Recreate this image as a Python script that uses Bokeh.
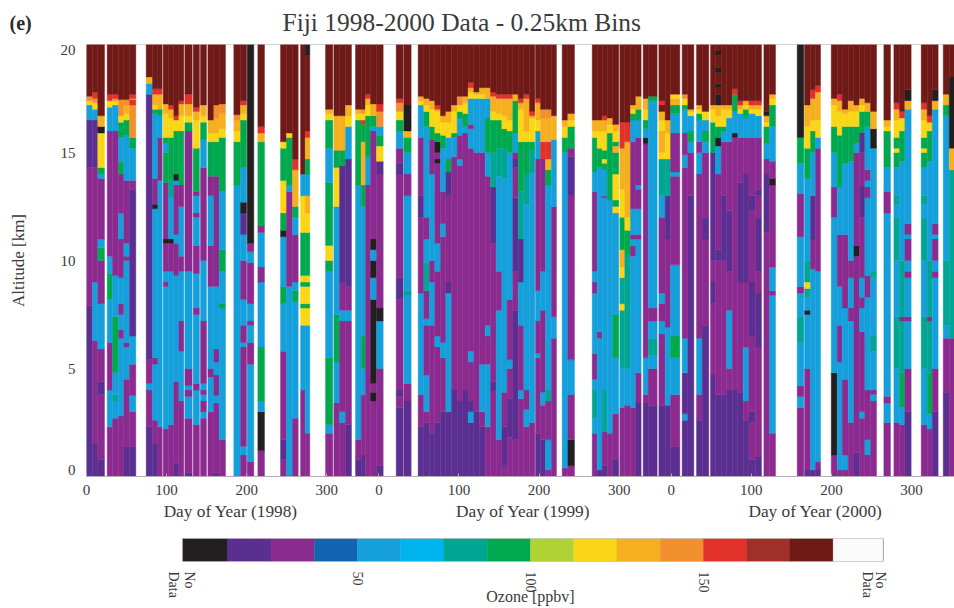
import math
from bokeh.embed import file_html
from bokeh.resources import INLINE
from bokeh.layouts import column
from bokeh.models import (ColumnDataSource, FixedTicker, Label, LinearAxis, LinearColorMapper, Range1d)
from bokeh.plotting import figure
from bokeh.transform import transform

# Ozone class (ppbv) of each letter used in the profiles
ozone_code = dict(k=6, i=18, p=31, b=43, l=56, c=68, t=81, g=93, m=106, y=118,
                  a=131, o=143, r=156, n=168, M=181)
palette = ["#231f20", "#5b2e91", "#8c2b8f", "#1264b0", "#15a0dc", "#00b4ef", "#00a693", "#00a94f",
           "#b1d235", "#f9d616", "#f6af1e", "#f28f2f", "#e1312a", "#a02f28", "#701a18", "#fafafa"]

# Soundings: day since 1 Jan 1998 (start, end), profile = class, top altitude km, class, ...
start_1998 = [0, 7.5, 14.1, 25.8, 32.5, 40, 46.6, 53.7, 74.5, 82.4, 89.1, 95.7, 102.4, 109, 115.3, 122.8, 133.2,
              142.3, 151.5, 159, 165.6, 183.9, 192.3, 200.6, 213.9, 242.2, 249.7, 257.2, 267.2, 273, 298.4, 308.8,
              315.9, 323.3, 335.8, 342.9, 348.3, 354.6, 362]
end_1998 = [7.5, 14.1, 22.5, 32.5, 40, 46.6, 53.7, 61.6, 82.4, 89.1, 94.5, 102.4, 109, 115.3, 121.5, 131.9, 141,
            149.8, 159, 165.6, 173.5, 192.3, 199.8, 208.9, 222.2, 249.7, 257.2, 264.3, 273, 278.8, 307.5, 315.9,
            323.3, 330.8, 342.9, 348.3, 354.6, 362, 370.4]
profile_1998 = [
    "i 7.9 p 14.3 i 16.5 l 17.2 y 17.4 o 17.6 M",
    "i 1.5 p 6.3 l 9 p 14.3 i 16.5 l 17 y 17.3 o 17.5 r 17.8 M",
    "i 0.8 p 3.8 i 4.4 p 5.9 l 8 p 10 g 10.6 l 11 p 13.8 l 14 g 14.3 y 15.9 k 16.2 a 16.7 M",
    "p 2.3 l 4 p 6.2 l 8.2 g 9.4 l 10.2 p 16 l 17.1 y 17.4 r 17.7 M",
    "p 2.7 l 3.5 t 3.8 l 4.8 g 7.4 l 9.3 p 16 l 17.2 y 17.4 o 17.5 r 17.7 M",
    "p 2.8 l 6.4 p 6.8 l 7.5 p 8 l 9.2 p 11 l 12.2 p 14 g 14.6 l 15.7 g 16.4 y 16.7 o 17.45 M",
    "i 1.4 p 4.5 l 6 p 6.2 l 10 p 10.2 l 10.8 p 13.7 l 15.8 g 16.5 y 16.8 a 17.2 o 17.45 M",
    "i 1.4 p 3 l 3.75 p 5.2 l 6.5 i 13.3 p 13.7 l 15.2 g 15.7 o 17.2 r 17.45 o 17.5 r 17.7 M",
    "i 2.3 p 4 l 4.3 p 5.4 i 17.7 l 18.2 a 18.5 M",
    "i 1.5 p 2.6 l 5.2 p 5.5 l 12.4 k 12.6 p 13.8 l 16.8 g 17 y 17.2 a 17.7 r 17.95 M",
    "p 2.3 l 13.7 p 15.7 l 16.7 g 17 a 17.7 r 17.95 M",
    "p 2.2 l 8.8 p 9 l 9.5 p 10.8 k 11 p 13.6 g 15 l 15.4 g 15.7 y 16.8 a 17.25 M",
    "p 2.4 l 9.5 p 10.8 k 11 l 12.9 t 13.7 g 15.7 y 16.6 a 17 r 17.2 M",
    "i 0.6 p 4.4 l 9.3 p 10.8 l 11.2 p 13.5 l 13.7 k 14 g 16 y 16.5 r 16.7 M",
    "p 3.5 l 5.8 p 7.2 l 9.5 p 10.2 l 12.5 p 13.5 g 16 y 16.7 a 17.25 r 17.4 M",
    "i 0.2 p 2.7 l 3.7 p 4 l 4.2 p 5 l 9.5 p 16 g 16.4 y 16.7 a 17.25 r 17.7 M",
    "p 2.4 l 4 p 4.3 l 7.5 p 7.8 l 9.4 p 10.7 l 12 p 12.2 l 13 p 13.2 g 15.2 y 16.5 a 16.9 r 17.1 M",
    "p 2.7 l 3 p 3.5 l 3.8 p 4 l 4.3 p 7.2 l 10 p 14.3 l 15.6 g 16.4 y 16.7 a 17.2 M",
    "p 3 l 4.6 p 5 l 8.8 p 10.7 l 13 p 13.9 g 15.5 y 15.9 a 16.5 M",
    "i 0.2 p 3.4 l 3.75 p 4.7 l 5.3 p 5.9 l 8.8 p 13.9 g 15.5 y 15.9 a 16.6 o 17.2 M",
    "p 1.7 l 7.8 g 8 l 9.5 g 10.5 l 13.2 g 15.7 y 16.1 a 16.8 o 17.25 M",
    "l 13.5 g 15.5 y 16 a 16.5 o 16.75 M",
    "p 1 l 1.4 p 6 l 6.2 p 7 l 8.2 p 10 l 11.2 i 12.2 k 12.7 l 14.3 g 16.5 y 16.8 a 17.2 r 17.4 M",
    "p 0.7 l 5.2 p 6.2 l 7 p 7.2 l 8 p 9.9 l 10.4 p 10.8 k",
    "p 1.2 k 3 l 3.5 g 6 l 9 p 9.7 l 11.3 p 11.6 g 15.5 a 15.9 r 16.2 M",
    "p 0.8 i 1.7 p 5.8 l 8 g 8.8 l 11.1 k 11.4 g 12.2 y 13.7 g 15.2 y 15.5 M",
    "l 8.8 p 13.2 l 13.5 g 15.7 y 15.9 M",
    "p 2.7 l 8.1 g 8.6 l 9 p 11.2 l 12 g 12.5 a 14.2 r 14.7 M",
    "p 4 l 7 y 7.8 g 8 y 8.8 g 9 y 9.3 g 11.3 y 13 l 14 M",
    "p 2 l 7 y 7.8 g 8 y 8.8 g 9 y 9.3 g 11.3 y 12.2 a 13 l 14 g 14.7 a 15.7 r 16 M 19.5 k",
    "p 2 l 2.4 g 5.5 l 9.5 g 10 y 10.7 g 13.6 l 15.2 g 16.5 y 16.8 a 17 M",
    "p 3.4 l 5.3 g 7.5 l 12.5 y 14.3 g 15.1 a 16.7 M",
    "p 2.5 l 3 p 7.2 l 7.7 p 9 i 14.4 g 15.1 a 16.7 M",
    "i 2.4 p 7.2 l 7.7 p 8.8 i 14.7 l 16.2 y 16.7 a 17.2 M",
    "i 0.8 p 1.7 l 13.5 g 16.5 y 16.8 a 17 M",
    "i 1 p 3.8 l 5 g 6.5 l 12.5 g 13.5 a 15.5 g 16.3 r 16.5 y 16.8 o 17 M",
    "p 13.5 l 14.8 g 16.7 y 17.2 a 17.5 r 17.7 M",
    "p 3.5 k 3.9 p 4.3 k 8.2 l 9.2 k 10 l 10.5 k 11 p 16 l 16.2 g 16.7 a 17.25 M",
    "i 0.5 p 5 l 7.2 k 7.8 p 14 i 14.6 y 15.3 g 15.8 l 16.2 o 16.9 r 17.25 M",
]

start_1999 = [386.6, 396.1, 414, 421.1, 428.2, 434.8, 441.9, 448.6, 455.6, 462.7, 469.8, 476.4, 483.5, 490.6, 497.7,
              504.3, 511.4, 518.5, 525.1, 532.2, 538.9, 545.9, 553, 560.5, 566.8, 573, 580.5, 593.8, 600.9, 631.3,
              637.5, 643.7, 650, 657, 665.8, 672, 679.1, 685.8, 694.9, 701.2, 714.5, 722.4, 729.1]
end_1999 = [395.3, 405.3, 421.1, 428.2, 434.8, 441.9, 448.6, 455.6, 462.7, 469.8, 476.4, 483.5, 490.6, 497.7, 504.3,
            511.4, 518.5, 525.1, 532.2, 538.9, 545.9, 553, 559.7, 566.8, 573, 580.5, 586.7, 600.9, 609.2, 637.5,
            643.7, 650, 657, 664.5, 672, 679.1, 685.8, 692.4, 701.2, 712.4, 722.4, 729.1, 740.7]
profile_1999 = [
    "i 3.2 p 3.7 i 4 p 8.2 i 9.2 p 14 i 14.5 p 15.2 l 16 g 16.5 y 16.9 o 17.3 r 17.5 M",
    "i 3.5 p 4.3 l 8.4 t 8.6 l 13 p 14 l 15 g 15.7 a 16 k 17.2 M",
    "i 2.3 p 3.8 l 8.5 p 12 i 13 p 15.7 l 17.2 y 17.4 a 17.6 M",
    "i 2.5 p 3 l 4.7 p 7 l 7.3 p 8.6 t 9.9 l 11 p 12 l 16.2 g 16.9 y 17.2 a 17.5 M",
    "i 2 p 7 l 9 p 10 l 14 p 15.6 g 16.2 y 17 a 17.4 M",
    "i 2.5 p 6 l 6.5 p 9.5 l 10.8 p 14.5 k 14.7 p 15 k 15.5 g 15.9 y 16.9 a 17 r 17.2 M",
    "i 3 p 5.5 l 6.2 p 11.1 l 11.7 p 13.2 l 15.2 g 15.8 y 16.4 a 16.7 M",
    "i 3 l 8.5 i 9 p 13 i 14.1 g 14.7 l 15.7 y 16.4 a 16.9 M",
    "i 4 p 14.8 l 15.7 g 15.9 y 16.9 a 17.2 M",
    "i 3.5 p 14.4 l 14.7 p 15.8 l 16.6 g 16.9 y 17.2 o 17.6 M",
    "i 4 p 15.9 l 16.2 g 16.8 y 17.3 a 17.6 M",
    "i 2.5 l 3 i 3.5 p 5.3 l 5.8 p 15.2 l 16.1 p 16.3 l 17.5 y 17.8 a 18 r 18.25 M",
    "i 3 p 15 l 17.5 y 17.7 a 17.8 M",
    "i 2.3 p 3 l 5.2 p 15 l 17.5 y 17.7 a 18 M",
    "p 2.3 l 5.2 p 6.5 l 7 p 13.9 l 15 g 16.6 l 17.5 a 18 M",
    "p 4 i 4.4 p 10.8 i 13.4 t 15 g 16.5 y 16.9 a 17.6 r 17.8 M",
    "p 1.7 l 7.7 p 9.5 l 13.9 t 15.2 g 16.5 y 16.8 a 17.5 r 17.7 M",
    "p 0.5 i 2.3 p 3.9 l 13.8 t 15.2 g 16.1 y 16.7 a 17.5 r 17.7 M",
    "p 1.8 i 3.6 p 5 l 5.4 p 8.2 l 15 g 16 y 16.5 a 17.5 r 17.7 M",
    "p 1.7 i 7.7 p 9.5 i 12.9 p 14.3 i 14.7 p 15 l 15.9 g 17.4 a 17.7 M",
    "p 3.6 l 4 p 7 l 9 i 11 t 13.2 g 15.5 y 17 a 17.3 r 17.5 M",
    "p 2.3 l 3.1 p 4 l 12.6 t 14 g 15.5 y 16 a 17.5 r 17.7 M",
    "p 2.5 l 14.1 t 15.1 g 15.5 y 16.6 a 16.7 r 16.9 M",
    "i 2 p 5.5 l 5.7 p 7.2 l 8.6 p 14.7 l 16 y 16.5 a 17.3 r 17.5 M",
    "i 1.7 p 3.3 l 3.9 p 7.7 l 9.5 p 14.7 r 15.5 a 16.6 o 17 M",
    "p 0.3 l 1.7 p 3.5 t 4 l 13.5 g 14.2 a 14.7 r 15.5 a 16.6 o 17 M",
    "p 6.4 l 7.4 p 12.5 l 15.6 a 16.7 M",
    "p 0.4 l 15 g 15.7 y 16.2 a 16.5 M",
    "p 0.5 k 1.7 p 3.8 l 5.4 p 13 i 14.8 p 15.2 g 16.2 y 16.5 a 16.8 M",
    "p 2 l 2.7 t 4 l 4.5 p 5.7 l 8.5 p 9 l 9.5 p 13.2 l 14.1 g 15.7 y 16 a 16.5 M",
    "i 0.3 l 6.4 p 6.7 l 14.3 g 15.2 y 16 a 16.5 M",
    "i 0.5 p 2.1 t 4 l 12.9 p 13 l 14.2 g 14.5 y 14.7 g 15.1 y 16 a 16.5 r 16.7 M",
    "p 2 l 12.8 g 15.9 y 16.3 a 16.6 M",
    "i 0.8 p 2.9 l 5.5 g 7.5 l 12.2 y 12.5 g 12.8 y 14 g 15 a 15.3 g 15.5 y 16 a 16.3 M",
    "p 3.2 l 5 t 7.7 y 8 t 9.2 y 9.7 a 10.5 g 12 y 13.3 a 15.2 r 16.4 M",
    "p 3.3 l 5 t 10.3 g 11.4 y 12 a 15.5 r 16.4 M",
    "p 3.2 l 10.2 p 10.7 l 11 p 11.2 l 12.4 p 15.5 l 16.5 g 16.8 y 17 a 17.2 M",
    "i 3.4 p 4.8 l 11 p 11.2 l 12.4 p 13.3 l 13.5 p 15.7 l 16.5 g 17 a 17.6 M",
    "i 3.4 p 3.8 l 5.5 p 15.4 k 15.7 l 16.1 g 16.5 y 17 a 17.5 M",
    "i 3.3 p 5 l 5.6 t 6.4 l 7.2 p 7.8 l 17.4 g 17.6 M",
    "i 3.3 p 6.6 l 7.2 p 8 l 8.5 p 12 l 13 t 14.7 y 15 a 16 y 16.5 a 16.9 M 17.2 r 17.4 M",
    "i 3.3 l 6.9 p 11 i 13 t 14.7 y 15.9 a 16.5 M",
    "i 1.4 p 3.8 l 5.5 g 6.5 l 9.8 p 13.9 l 14.1 p 15.9 l 16.8 g 17.2 a 17.5 y 17.7 M",
]

start_2000 = [743.6, 750.7, 761.5, 768.6, 779, 785.3, 792.3, 799, 806.1, 813.1, 819.8, 826.9, 835.2, 845.6, 852.7,
              887.2, 896.4, 903.9, 910.1, 929.7, 937.2, 943.4, 950.9, 958, 965, 971.7, 978.8, 995.4, 1007.9, 1015,
              1021.6, 1042, 1049.5, 1055.8, 1069.5, 1077]
end_2000 = [750.7, 758.2, 768.6, 776.9, 785.3, 792.3, 799, 806.1, 813.1, 819.8, 826.9, 835.2, 842.7, 852.7, 860.2,
            895.5, 903.9, 910.1, 916.4, 937.2, 943.4, 950.9, 958, 965, 971.7, 978.8, 986.3, 1003.7, 1015, 1021.6,
            1029.5, 1049.5, 1055.8, 1063.2, 1077, 1083.6]
profile_2000 = [
    "i 2.6 l 2.9 i 4.8 l 6.4 p 14.3 l 14.9 p 15.9 l 17 g 17.2 y 17.5 o 17.7 M",
    "i 13 p 15 l 15.5 g 16 l 16.7 y 16.9 a 17 M",
    "i 2.6 p 3.8 l 6.4 p 14 l 15 p 15.5 l 16.5 g 16.8 y 17 a 17.2 M",
    "i 7 p 11 i 12 p 15 l 15.5 g 16 l 16.5 y 16.9 M",
    "i 4.7 p 8 i 9 p 10 i 15 g 16.4 y 17 a 17.2 M",
    "i 3.8 p 10 i 10.5 p 14 l 15.3 k 15.7 g 16.2 y 16.7 a 17.2 k 17.7 M 18 k 18.2 M 18.7 k 18.95 M 19.5 k 19.7 M",
    "i 3.8 p 10 i 13 p 15.5 l 16 g 16.2 y 17 a 17.2 M",
    "i 4 p 5 l 7.7 p 9.5 i 12.3 p 15.5 l 16.6 y 17 a 17.2 M",
    "i 4 p 15.7 k 15.9 l 16.9 g 17.7 r 17.95 M",
    "i 3.9 p 9 i 13.6 p 15.7 l 16.8 y 17 a 17.2 r 17.4 M",
    "i 2.6 p 3.5 l 6 p 9 i 14 p 15.7 l 16.6 g 17 y 17.2 a 17.4 M",
    "i 0.8 p 2.5 i 3 p 6.5 i 9 p 12.3 i 13 p 15.7 l 16.8 y 17 a 17.2 r 17.4 M",
    "i 0.9 p 6 i 8.5 p 9.5 i 12 p 13 i 13.3 p 15.7 l 16.7 y 17 a 17.2 r 17.4 M",
    "p 11.3 i 14 p 14.7 l 15.4 g 16.2 y 16.4 a 16.7 k 16.9 M",
    "p 2 l 8.4 p 8.6 l 9.7 p 13.5 k 13.8 p 14.6 l 16.2 g 17.2 y 17.5 a 17.7 M",
    "p 3.2 l 3.7 p 4.2 l 6.2 t 7.4 l 8.5 p 8.8 l 11.1 p 13.1 l 14.5 g 15.7 k",
    "i 0.3 p 5 l 7.5 k 7.7 l 8.3 t 8.7 y 9 t 10 l 13.8 g 15.2 y 16.2 a 17.2 M",
    "i 0.3 l 9.6 p 11 i 13 l 15 g 16 y 16.5 a 17.5 r 17.9 M",
    "i 0.3 p 0.7 l 9.5 p 15.2 l 15.7 y 16.5 a 17.8 r 18.1 M",
    "p 1 k 4.8 l 12 p 13.4 l 15 g 16.2 y 17.2 a 17.5 M",
    "p 0.3 l 5.3 p 7 l 8.8 p 11.2 l 13.4 g 15.8 y 16.9 a 17.4 r 17.7 M",
    "p 0.3 l 1 p 4.5 l 7.8 p 11.2 l 14.5 g 16.2 y 16.8 a 17 M",
    "p 2.5 l 7.2 p 7.8 l 9.2 p 10 l 14.6 g 16.2 y 16.9 a 17.4 M",
    "i 1.1 p 10.2 k 10.7 p 15 l 15.4 g 16.2 y 16.9 a 17.2 M",
    "p 2.7 l 3 p 6.7 l 7.8 p 8.3 l 9.2 p 12 i 13.4 p 15 i 15.9 g 16.9 y 17.2 a 17.5 M",
    "p 1 l 1.7 p 4 l 8.3 p 9.3 l 12.9 p 13.4 l 13.7 p 14.2 l 16.2 g 16.9 a 17.3 M",
    "p 3.5 l 3.8 p 4 l 5.8 t 6.5 l 9.2 t 9.5 l 15.2 k 16.1 a 16.9 M",
    "p 2.5 l 3.4 p 3.7 l 12.2 p 13.2 l 14.3 g 16 y 16.2 a 16.5 M",
    "p 2.5 l 5 t 7.4 l 10 t 12 l 12.6 t 13 l 14.3 g 15 y 15.2 g 15.7 y 16.5 a 17 r 17.3 M",
    "p 2.4 l 3.2 g 4.8 t 7.2 p 7.4 t 10 l 14.6 g 16 y 16.6 r 16.9 M",
    "i 3 p 5 l 7.2 p 7.4 l 9.2 p 9.5 l 10 p 11 l 11.2 p 11.7 l 17 a 17.4 k 17.9 M",
    "p 2.4 l 5 t 7.4 l 10 t 12 l 12.6 t 13 l 14.3 g 15 y 15.2 g 15.7 y 16.5 a 17 r 17.3 M",
    "p 2.2 l 2.9 g 4.8 t 7.2 p 7.4 t 10 l 14.6 g 16 y 16.4 r 16.7 M",
    "i 3 p 5 l 9.2 p 9.5 l 10 p 11 l 11.2 p 11.7 l 17 a 17.4 k 17.9 M",
    "i 3.9 p 6.4 l 7 t 10 l 16.7 g 17.2 a 17.7 M",
    "p 6.4 t 14.2 a 15.2 k 18.5 M",
]

x_ticks = [0, 100, 200, 300, 365, 465, 565, 665, 730, 830, 930, 1030]
x_tick_labels = ["0", "100", "200", "300", "0", "100", "200", "300", "0", "100", "200", "300"]
y_ticks = [0.28, 5, 10, 15, 19.75]
y_tick_labels = ["0", "5", "10", "15", "20"]
year_titles = ["Day of Year (1998)", "Day of Year (1999)", "Day of Year (2000)"]
year_title_days = [180, 545, 910]
bar_edges = [-0.6, 12.5, 25, 37.5, 50, 62.5, 75, 87.5, 100, 112.5, 125, 137.5, 150, 162.5, 175, 187.5, 202]
bar_ticks = [-3.2, 1.4, 50, 100, 150, 197.5, 201.2]
bar_tick_labels = ["Data", "No", "50", "100", "150", "Data", "No"]

SERIF = "Liberation Serif"
INK = "#3a3a3a"

left, right, bottom, top, oz = [], [], [], [], []
for starts, ends, profiles in [(start_1998, end_1998, profile_1998),
                               (start_1999, end_1999, profile_1999),
                               (start_2000, end_2000, profile_2000)]:
    for s, e, prof in zip(starts, ends, profiles):
        tok = prof.split()
        low = 0.0
        for i in range(0, len(tok), 2):
            high = float(tok[i + 1]) if i + 1 < len(tok) else 20.0
            left.append(s); right.append(e); bottom.append(low); top.append(high)
            oz.append(ozone_code[tok[i]])
            low = high

mapper = LinearColorMapper(palette=palette, low=0, high=200)

# Header strip: its frame fills the whole canvas, so both texts stay inside it
head = figure(width=954, height=40, output_backend="svg", toolbar_location=None,
              x_range=Range1d(0, 954), y_range=Range1d(0, 40),
              min_border_left=0, min_border_right=0, min_border_top=0, min_border_bottom=0)
head.frame_align = False
head.xaxis.visible = False
head.yaxis.visible = False
head.grid.visible = False
head.outline_line_color = None
head.add_layout(Label(x=9, y=18, text="(e)", text_font=SERIF, text_font_size="20px", text_font_style="bold",
                      text_color="#2a2a2a", text_align="left", text_baseline="middle"))
head.add_layout(Label(x=282, y=18, text="Fiji 1998-2000 Data - 0.25km Bins", text_font=SERIF,
                      text_font_size="25.5px", text_color=INK, text_align="left", text_baseline="middle"))

p = figure(width=954, height=490, output_backend="svg", toolbar_location=None,
           x_range=Range1d(0, 1083.6), y_range=Range1d(0, 20),
           min_border_left=86, min_border_right=0, min_border_top=4, min_border_bottom=54)
p.frame_align = False
p.quad(left="left", right="right", bottom="bottom", top="top",
       source=ColumnDataSource(dict(left=left, right=right, bottom=bottom, top=top, oz=oz)),
       fill_color=transform("oz", mapper), line_color=transform("oz", mapper), line_width=0.4)

p.grid.visible = False
p.outline_line_color = "#d8cfd8"

ax = p.xaxis[0]
ax.ticker = FixedTicker(ticks=x_ticks)
ax.major_label_overrides = dict(zip(x_ticks, x_tick_labels))
ax.major_tick_in = 3
ax.major_tick_out = 0
ax.minor_tick_line_color = None
ax.axis_line_color = "#b9a9b9"
ax.major_tick_line_color = "#b0b0b0"
ax.major_label_text_font = SERIF
ax.major_label_text_font_size = "15px"
ax.major_label_text_color = INK
ax.major_label_standoff = 8

year_axis = LinearAxis(ticker=FixedTicker(ticks=year_title_days),
                       major_label_overrides=dict(zip(year_title_days, year_titles)),
                       major_tick_line_color=None, minor_tick_line_color=None, axis_line_color=None,
                       major_label_standoff=-2, major_label_text_font=SERIF,
                       major_label_text_font_size="17.3px", major_label_text_color=INK)
p.add_layout(year_axis, "below")

ay = p.yaxis[0]
ay.ticker = FixedTicker(ticks=y_ticks)
ay.major_label_overrides = dict(zip(y_ticks, y_tick_labels))
ay.major_tick_line_color = None
ay.minor_tick_line_color = None
ay.axis_line_color = None
ay.major_label_text_font = SERIF
ay.major_label_text_font_size = "15px"
ay.major_label_text_color = INK
ay.major_label_standoff = 5
ay.axis_label = "Altitude [km]"
ay.axis_label_text_font = SERIF
ay.axis_label_text_font_size = "17px"
ay.axis_label_text_font_style = "normal"
ay.axis_label_text_color = INK
ay.axis_label_standoff = 30

bar = figure(width=954, height=78, output_backend="svg", toolbar_location=None,
             x_range=Range1d(-5.5, 205.5), y_range=Range1d(0, 1),
             min_border_left=165, min_border_right=59, min_border_top=8, min_border_bottom=47)
bar.frame_align = False
bar.quad(left=bar_edges[:-1], right=bar_edges[1:], bottom=0, top=1, fill_color=palette, line_color=palette,
         line_width=0.4)
bar.quad(left=bar_edges[0], right=bar_edges[-1], bottom=0, top=1, fill_color=None, line_color="#a8a8a8")
bar.grid.visible = False
bar.yaxis.visible = False
bar.outline_line_color = None
bx = bar.xaxis[0]
bx.ticker = FixedTicker(ticks=bar_ticks)
bx.major_label_overrides = dict(zip(bar_ticks, bar_tick_labels))
bx.major_label_orientation = -math.pi / 2
bx.major_tick_line_color = None
bx.minor_tick_line_color = None
bx.axis_line_color = None
bx.major_label_standoff = 4
bx.major_label_text_font = SERIF
bx.major_label_text_font_size = "14px"
bx.major_label_text_color = INK
bx.axis_label = "Ozone [ppbv]"
bx.axis_label_text_font = SERIF
bx.axis_label_text_font_size = "16px"
bx.axis_label_text_font_style = "normal"
bx.axis_label_text_color = INK
bx.axis_label_standoff = -13

layout = column(head, p, bar, spacing=0)
open("out.html", "w").write(file_html(layout, INLINE))
